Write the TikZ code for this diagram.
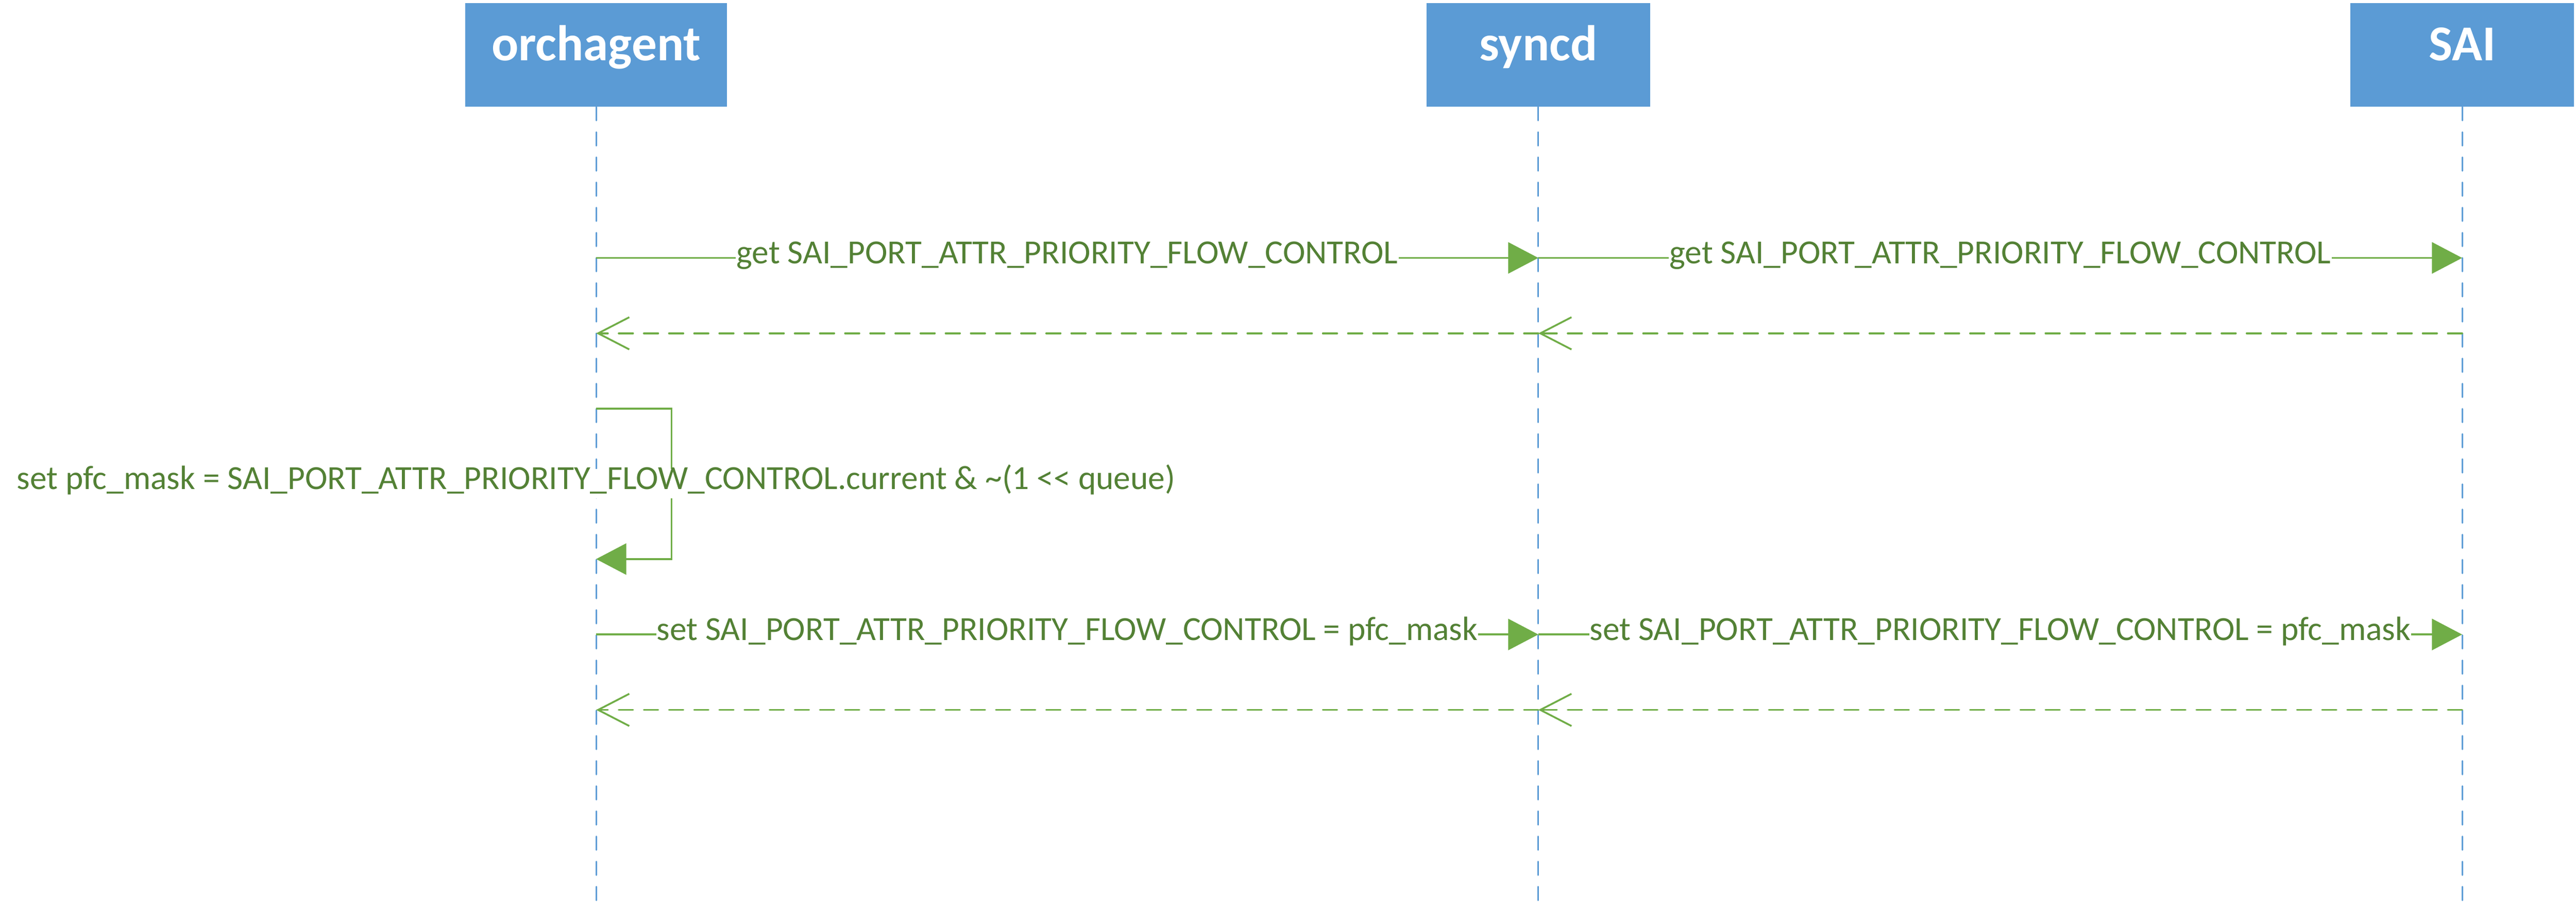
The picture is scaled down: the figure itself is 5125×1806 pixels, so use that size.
\documentclass[tikz,border=0pt]{standalone}
\usepackage{fontspec}
\setmainfont{Carlito}
\usetikzlibrary{arrows.meta, positioning}
\usepackage{xcolor}
\definecolor{actorblue}{HTML}{5B9BD5}
\definecolor{msggreen}{HTML}{70AD47}
\definecolor{textgreen}{HTML}{538135}

\begin{document}
\begin{tikzpicture}[x=0.01cm, y=-0.01cm,
        actor/.style={rectangle, fill=actorblue, text=white, inner sep=0pt, minimum height=2.06cm, text height=0.644em, text depth=0pt, font=\fontsize{28.4pt}{34pt}\selectfont\bfseries},
        lifeline/.style={color=actorblue, line width=0.032cm, line cap=round, dash pattern=on 0.27cm off 0.23cm},
        call/.style={color=msggreen, line width=0.036cm, -{Triangle[length=0.6cm, width=0.62cm]}},
        reply/.style={color=msggreen, line width=0.036cm, line cap=round, dash pattern=on 0.285cm off 0.215cm, -{Straight Barb[length=0.62cm, width=0.64cm]}},
        msglabel/.style={fill=white, text=textgreen, inner xsep=0.01cm, inner ysep=0.18cm, text height=0.644em, text depth=0pt, font=\fontsize{19.1pt}{23pt}\selectfont}]
        \useasboundingbox (0,0) rectangle (5125,1806);
        \node[actor, minimum width=5.2cm] (orchagent) at (1186,109) {orchagent};
        \node[actor, minimum width=4.44cm, right=13.9cm of orchagent] (syncd) {syncd};
        \node[actor, minimum width=4.45cm, right=13.91cm of syncd] (sai) {SAI};
        \foreach \row/\y in {get/513, ack/663, top/813, bot/1112, set/1262, done/1412, end/1798} {
            \coordinate (orchagent-\row) at (orchagent |- 0,\y);
            \coordinate (syncd-\row) at (syncd |- 0,\y);
            \coordinate (sai-\row) at (sai |- 0,\y);
        }
        \foreach \who in {orchagent, syncd, sai}
            \draw[lifeline] (\who) -- (\who-end);
        \draw[call] (orchagent-get) -- node[msglabel] {get SAI\_PORT\_ATTR\_PRIORITY\_FLOW\_CONTROL} (syncd-get);
        \draw[call] (syncd-get) -- node[msglabel] {get SAI\_PORT\_ATTR\_PRIORITY\_FLOW\_CONTROL} (sai-get);
        \draw[reply] (sai-ack) -- (syncd-ack);
        \draw[reply] (syncd-ack) -- (orchagent-ack);
        \draw[call] (orchagent-top) -- ++(150,0) |- (orchagent-bot);
        \node[msglabel] (masklabel) at (orchagent |- 0,962) {set pfc\_mask = SAI\_PORT\_ATTR\_PRIORITY\_FLOW\_CONTROL.current \& \textasciitilde(1 <\kern0pt< queue)};
        \draw[call] (orchagent-set) -- node[msglabel] {set SAI\_PORT\_ATTR\_PRIORITY\_FLOW\_CONTROL = pfc\_mask} (syncd-set);
        \draw[call] (syncd-set) -- node[msglabel] {set SAI\_PORT\_ATTR\_PRIORITY\_FLOW\_CONTROL = pfc\_mask} (sai-set);
        \draw[reply] (sai-done) -- (syncd-done);
        \draw[reply] (syncd-done) -- (orchagent-done);
\end{tikzpicture}
\end{document}
